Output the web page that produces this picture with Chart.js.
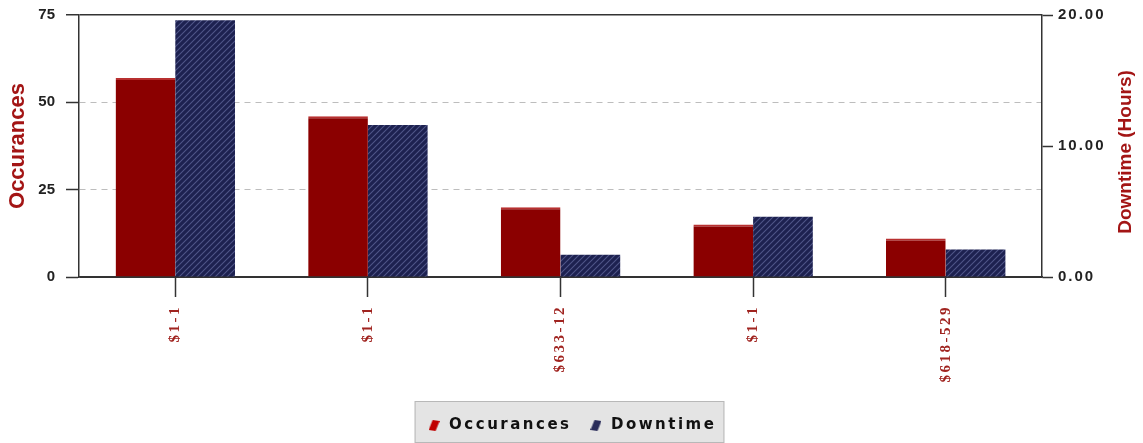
<!DOCTYPE html>
<html>
<head>
<meta charset="utf-8">
<script src="https://cdn.jsdelivr.net/npm/chart.js@4.4.0/dist/chart.umd.min.js"></script>
<style>
  html, body { margin: 0; padding: 0; background: #fff; }
  #wrap { width: 1143px; height: 443px; }
</style>
</head>
<body>
<div id="wrap"><canvas id="chart"></canvas></div>
<script>
const categories = ["$1-1", "$1-1", "$633-12", "$1-1", "$618-529"];
const occurances = [57, 46, 20, 15, 11];
const downtime = [19.6, 11.6, 1.7, 4.6, 2.1];
const leftTicks = [0, 25, 50, 75];
const rightTicks = [0, 10, 20];

const RED = "#8b0000";
const TITLE_RED = "#a31515";

const canvas = document.getElementById("chart");
const ctx = canvas.getContext("2d");

// navy bars have a diagonal hatch
function makeHatch() {
  const c = document.createElement("canvas");
  c.width = 6; c.height = 6;
  const g = c.getContext("2d");
  g.fillStyle = "#1d2150";
  g.fillRect(0, 0, 6, 6);
  g.strokeStyle = "#505688";
  g.lineWidth = 1.1;
  g.beginPath();
  g.moveTo(0, 6); g.lineTo(6, 0);
  g.moveTo(-3, 3); g.lineTo(3, -3);
  g.moveTo(3, 9); g.lineTo(9, 3);
  g.stroke();
  return ctx.createPattern(c, "repeat");
}

// little slanted legend markers
function makeMarker(color) {
  const c = document.createElement("canvas");
  c.width = 11; c.height = 11;
  const g = c.getContext("2d");
  g.fillStyle = color;
  g.beginPath();
  g.moveTo(4, 0); g.lineTo(11, 1); g.lineTo(7, 11); g.lineTo(0, 10);
  g.closePath();
  g.fill();
  return c;
}

const markers = [makeMarker("#c00000"), makeMarker("#2a2d5a")];

const legendBox = {
  id: "legendBox",
  beforeDraw(chart) {
    const lg = chart.legend;
    if (!lg || !lg.legendHitBoxes || !lg.legendHitBoxes.length) return;
    const hb = lg.legendHitBoxes;
    const x1 = hb[0].left - 12;
    const x2 = hb[hb.length - 1].left + hb[hb.length - 1].width + 8;
    const c = chart.ctx;
    c.save();
    c.fillStyle = "#e4e4e4";
    c.fillRect(x1, lg.top, x2 - x1, lg.bottom - lg.top);
    c.strokeStyle = "#b8b8b8";
    c.lineWidth = 1;
    c.strokeRect(x1 + 0.5, lg.top + 0.5, x2 - x1 - 1, lg.bottom - lg.top - 1);
    c.restore();
  }
};

// right axis title reads bottom-to-top like the left one
const rightTitle = {
  id: "rightTitle",
  afterDraw(chart) {
    const a = chart.chartArea;
    const c = chart.ctx;
    c.save();
    c.translate(1126, (a.top + a.bottom) / 2 + 6);
    c.rotate(-Math.PI / 2);
    c.fillStyle = TITLE_RED;
    c.font = "bold 19px 'Liberation Sans', Arial, sans-serif";
    c.textAlign = "center";
    c.textBaseline = "middle";
    c.fillText("Downtime (Hours)", 0, 0);
    c.restore();
  }
};

// keep the tick labels from pushing the plot area down
function noPad(scale) {
  scale.paddingTop = 0;
  scale.paddingBottom = 0;
}

const chart = new Chart(ctx, {
  type: "bar",
  data: {
    labels: categories,
    datasets: [
      {
        label: "Occurances",
        data: occurances,
        yAxisID: "y",
        backgroundColor: RED,
        borderColor: "#b83030",
        borderWidth: { top: 2, left: 0, right: 0, bottom: 0 },
        borderSkipped: false,
        categoryPercentage: 0.62,
        barPercentage: 1.0,
      },
      {
        label: "Downtime",
        data: downtime,
        yAxisID: "y1",
        backgroundColor: makeHatch(),
        borderWidth: 0,
        categoryPercentage: 0.62,
        barPercentage: 1.0,
      },
    ],
  },
  options: {
    responsive: true,
    maintainAspectRatio: false,
    animation: false,
    layout: { padding: { top: 15, left: 0, right: 0, bottom: 0 } },
    plugins: {
      tooltip: { enabled: false },
      legend: {
        position: "bottom",
        labels: {
          usePointStyle: true,
          padding: 17,
          color: "#111",
          font: { family: "'DejaVu Sans', sans-serif", size: 15, weight: "bold" },
          generateLabels(chart) {
            return chart.data.datasets.map((ds, i) => ({
              text: ds.label,
              pointStyle: markers[i],
              fillStyle: "#000",
              strokeStyle: "#000",
              lineWidth: 0,
              hidden: false,
              datasetIndex: i,
              fontColor: "#111",
            }));
          },
        },
      },
    },
    scales: {
      x: {
        offset: true,
        afterFit(scale) { scale.height = 124; },
        grid: {
          offset: false,
          drawOnChartArea: false,
          drawTicks: true,
          tickLength: 20,
          tickColor: "#333",
          tickWidth: 1.5,
        },
        border: { display: true, color: "#333", width: 1.5 },
        ticks: {
          autoSkip: false,
          minRotation: 90,
          maxRotation: 90,
          padding: 8,
          color: "#a02420",
          font: { family: "'Liberation Serif', 'DejaVu Serif', serif", size: 15, weight: "bold" },
        },
      },
      y: {
        position: "left",
        min: 0,
        max: 75,
        afterFit(scale) { scale.width = 79; noPad(scale); },
        afterBuildTicks(scale) { scale.ticks = leftTicks.map((v) => ({ value: v })); },
        grid: {
          color: (c) => (c.tick && (c.tick.value === 0 || c.tick.value === 75) ? "#333" : "#bdbdbd"),
          lineWidth: (c) => (c.tick && c.tick.value === 75 ? 1.5 : 1),
          tickLength: 13,
          tickColor: "#333",
          tickWidth: 1.5,
        },
        border: {
          display: true,
          color: "#333",
          width: 1.5,
          dash: (c) => (c.tick && (c.tick.value === 0 || c.tick.value === 75) ? [] : [6, 5]),
        },
        title: {
          display: true,
          text: "Occurances",
          color: TITLE_RED,
          padding: { top: 5, bottom: 2 },
          font: { family: "'Liberation Sans', Arial, sans-serif", size: 22, weight: "bold" },
        },
        ticks: {
          padding: 11,
          color: "#222",
          font: { family: "'Liberation Sans', Arial, sans-serif", size: 15, weight: "bold" },
        },
      },
      y1: {
        position: "right",
        min: 0,
        max: 20,
        afterFit(scale) { scale.width = 101; noPad(scale); },
        afterBuildTicks(scale) { scale.ticks = rightTicks.map((v) => ({ value: v })); },
        grid: {
          drawOnChartArea: false,
          tickLength: 11,
          tickColor: "#333",
          tickWidth: 1.5,
        },
        border: { display: true, color: "#333", width: 1.5 },
        ticks: {
          padding: 5,
          color: "#222",
          font: { family: "'Liberation Sans', Arial, sans-serif", size: 15, weight: "bold" },
          callback: (v) => Number(v).toFixed(2),
        },
      },
    },
  },
  plugins: [legendBox, rightTitle],
});

// letter-spaced text for the legend and some axes, as in the source image
function spaced(obj, name, px) {
  const orig = obj[name].bind(obj);
  obj[name] = function (a) {
    const c = this.ctx;
    c.save();
    c.letterSpacing = px;
    const r = orig(a);
    c.restore();
    return r;
  };
}
spaced(chart.legend, "fit", "2.5px");
spaced(chart.legend, "draw", "2.5px");
spaced(chart.scales.y1, "drawLabels", "2px");
spaced(chart.scales.x, "drawLabels", "2.5px");
chart.update();
</script>
</body>
</html>
